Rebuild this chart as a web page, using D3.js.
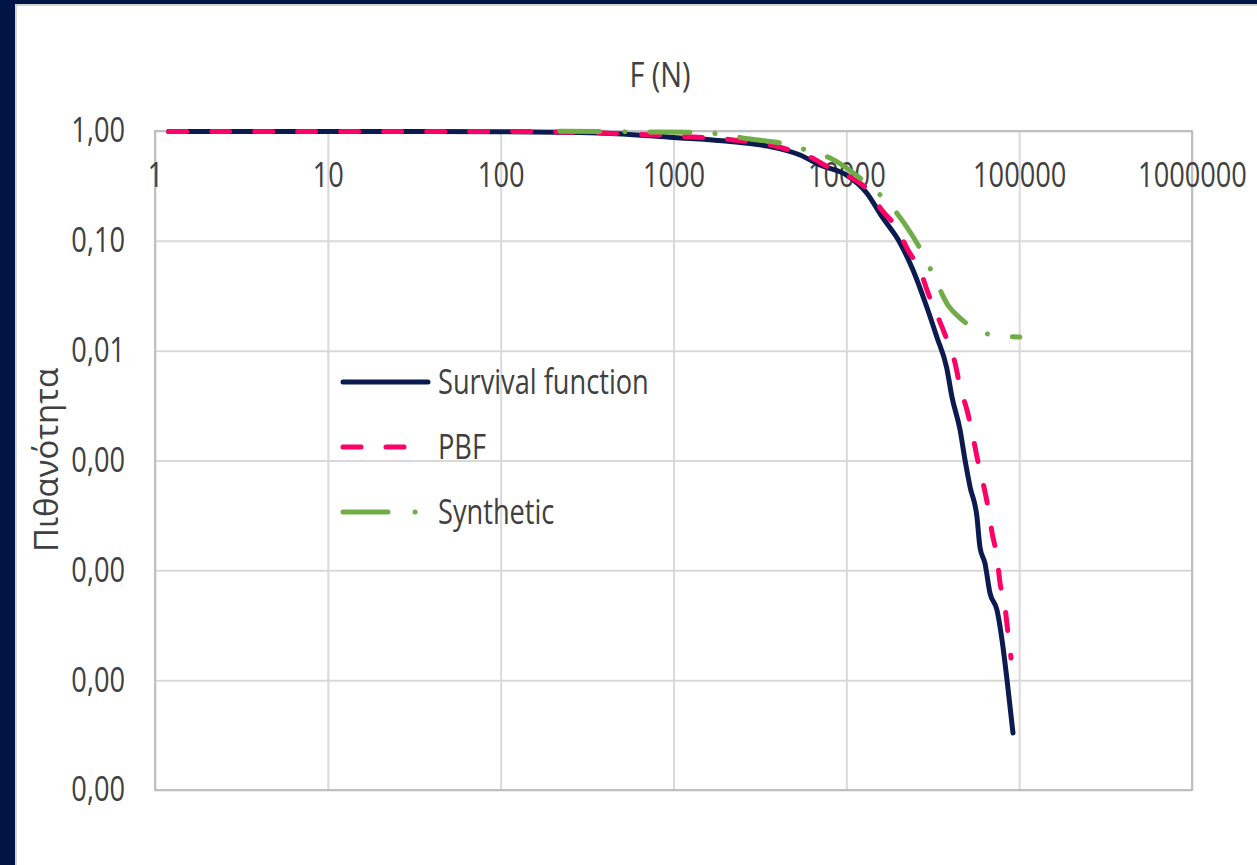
<!DOCTYPE html>
<html>
<head>
<meta charset="utf-8">
<title>Survival function</title>
<script src="https://cdn.jsdelivr.net/npm/d3@7"></script>
<style>
	body { margin: 0; background: #ffffff; }
	svg { display: block; font-family: "Open Sans", sans-serif; }
</style>
</head>
<body>
<div id="container"></div>
<script>

//Tick values and labels (Greek decimal comma as in the original)
var xTicks = [1, 10, 100, 1000, 10000, 100000, 1000000];
var yTicks = [1, 0.1, 0.01, 0.001, 0.0001, 0.00001, 0.000001];
var yTickLabels = ["1,00", "0,10", "0,01", "0,00", "0,00", "0,00", "0,00"];

//Series: F (N) and probability
var survivalF = [1.2, 10, 100, 376, 1000, 2210, 3480, 5400, 7040, 10050, 13120, 16080, 20460, 24300, 29170, 33350, 38100, 40850, 45500, 48600, 52000, 57000, 59300, 63400, 67800, 74400, 79600, 85100, 92100];
var survivalP = [0.99, 0.99, 0.985, 0.959, 0.873, 0.799, 0.73, 0.605, 0.49, 0.397, 0.273, 0.166, 0.0955, 0.0542, 0.0251, 0.0134, 0.00695, 0.00379, 0.0019, 0.00101, 0.000574, 0.000306, 0.000163, 0.000116, 0.000062, 0.0000435, 0.0000232, 0.00001, 0.0000033];

var pbfF = [1.2, 10, 100, 1000, 2210, 3480, 4720, 6165, 8260, 10500, 13350, 16080, 19650, 22750, 26700, 29700, 33900, 38260, 42550, 45500, 49900, 54100, 57000, 61800, 66000, 69700, 74400, 77500, 82800, 86100, 89700];
var pbfP = [0.99, 0.99, 0.99, 0.9, 0.83, 0.76, 0.67, 0.58, 0.45, 0.38, 0.29, 0.19, 0.13, 0.082, 0.0542, 0.0335, 0.0202, 0.0125, 0.00772, 0.00467, 0.00288, 0.00164, 0.00108, 0.000624, 0.000377, 0.000219, 0.000132, 0.0000767, 0.0000464, 0.0000269, 0.0000159];

var synthF = [220, 803, 1423, 2773, 4720, 6330, 8050, 12000, 15060, 17900, 23990, 27400, 31300, 38730, 45500, 57000, 77500, 101000];
var synthP = [0.995, 0.98, 0.97, 0.846, 0.746, 0.644, 0.568, 0.373, 0.278, 0.212, 0.113, 0.079, 0.052, 0.026, 0.0198, 0.0154, 0.0136, 0.0133];

var seriesNames = ["Survival function", "PBF", "Synthetic"];

//Sizes
var width = 1257, height = 865;
var plotLeft = 155, plotRight = 1192, plotTop = 131, plotBottom = 790;
var squeeze = 0.8; //the original text is narrow, like Calibri

var svg = d3.select("#container")
	.append("svg")
	.attr("width", width)
	.attr("height", height);

//Navy frame on the left and top
svg.append("rect").attr("x", 0).attr("y", 0).attr("width", width).attr("height", height).attr("fill", "#ffffff");
svg.append("rect").attr("x", 0).attr("y", 0).attr("width", 15).attr("height", height).attr("fill", "#001446");
svg.append("rect").attr("x", 0).attr("y", 0).attr("width", width).attr("height", 4).attr("fill", "#001446");
svg.append("rect").attr("x", 15).attr("y", 4).attr("width", 2).attr("height", height).attr("fill", "#d4d4d4");
svg.append("rect").attr("x", 15).attr("y", 4).attr("width", width).attr("height", 2).attr("fill", "#d4d4d4");

var x = d3.scaleLog().domain([1, 1000000]).range([plotLeft, plotRight]);
var y = d3.scaleLog().domain([0.000001, 1]).range([plotBottom, plotTop]);

//Gridlines
var gridX = svg.append("g")
	.attr("transform", "translate(0," + plotBottom + ")")
	.call(d3.axisBottom(x).tickValues(xTicks).tickSize(-(plotBottom - plotTop)).tickFormat(""));
gridX.select(".domain").remove();
gridX.selectAll("line").attr("stroke", "#d9d9d9").attr("stroke-width", 2);

var gridY = svg.append("g")
	.attr("transform", "translate(" + plotLeft + ",0)")
	.call(d3.axisLeft(y).tickValues(yTicks).tickSize(-(plotRight - plotLeft)).tickFormat(""));
gridY.select(".domain").remove();
gridY.selectAll("line").attr("stroke", "#d9d9d9").attr("stroke-width", 2);

//Plot border
svg.append("rect")
	.attr("x", plotLeft).attr("y", plotTop)
	.attr("width", plotRight - plotLeft).attr("height", plotBottom - plotTop)
	.attr("fill", "none")
	.attr("stroke", "#bfbfbf")
	.attr("stroke-width", 2);

//Axis labels (x labels sit just under the top edge)
var xAxis = svg.append("g")
	.attr("transform", "translate(0," + plotTop + ")")
	.call(d3.axisBottom(x).tickValues(xTicks).tickFormat(d3.format("d")).tickSize(0).tickPadding(32));
xAxis.select(".domain").remove();
xAxis.attr("font-family", null);
xAxis.selectAll("text")
	.attr("font-size", 34)
	.attr("fill", "#404040")
	.attr("transform", "scale(" + squeeze + ",1)");

var yAxis = svg.append("g")
	.attr("transform", "translate(" + plotLeft + ",0)")
	.call(d3.axisLeft(y).tickValues(yTicks).tickFormat(function(d, i) { return yTickLabels[i]; }).tickSize(0).tickPadding(30 / squeeze));
yAxis.select(".domain").remove();
yAxis.attr("font-family", null);
yAxis.selectAll("text")
	.attr("font-size", 34)
	.attr("fill", "#404040")
	.attr("transform", "scale(" + squeeze + ",1)");

//Titles
svg.append("text")
	.attr("transform", "translate(660,87) scale(0.85,1)")
	.attr("text-anchor", "middle")
	.attr("font-size", 34)
	.attr("fill", "#404040")
	.text("F (N)");

svg.append("text")
	.attr("transform", "translate(58,460) rotate(-90)")
	.attr("text-anchor", "middle")
	.attr("font-size", 33)
	.attr("fill", "#404040")
	.text("Πιθανότητα");

//Lines
var line = d3.line()
	.x(function(d) { return x(d[0]); })
	.y(function(d) { return y(d[1]); })
	.curve(d3.curveMonotoneX);

var styles = [
	{ color: "#0b1a4f", dash: null },
	{ color: "#ff0066", dash: "18,25" },
	{ color: "#70ad47", dash: "40,25,0.1,25" }
];

var series = [
	d3.zip(survivalF, survivalP),
	d3.zip(pbfF, pbfP),
	d3.zip(synthF, synthP)
];

//survival first, PBF over it, synthetic on top
series.forEach(function(data, i) {
	svg.append("path")
		.datum(data)
		.attr("d", line)
		.attr("fill", "none")
		.attr("stroke", styles[i].color)
		.attr("stroke-width", 5)
		.attr("stroke-linecap", "round")
		.attr("stroke-linejoin", "round")
		.attr("stroke-dasharray", styles[i].dash);
});

//Legend
var legend = svg.append("g");
seriesNames.forEach(function(name, i) {
	var ly = 382 + i * 65;
	legend.append("line")
		.attr("x1", 343).attr("x2", i == 1 ? 410 : 428)
		.attr("y1", ly).attr("y2", ly)
		.attr("stroke", styles[i].color)
		.attr("stroke-width", 5)
		.attr("stroke-linecap", "round")
		.attr("stroke-dasharray", i == 2 ? "45,27,0.1,60" : styles[i].dash);
	legend.append("text")
		.attr("transform", "translate(438," + ly + ") scale(" + squeeze + ",1)")
		.attr("dy", "0.35em")
		.attr("font-size", 34)
		.attr("fill", "#404040")
		.text(name);
});

</script>
</body>
</html>
